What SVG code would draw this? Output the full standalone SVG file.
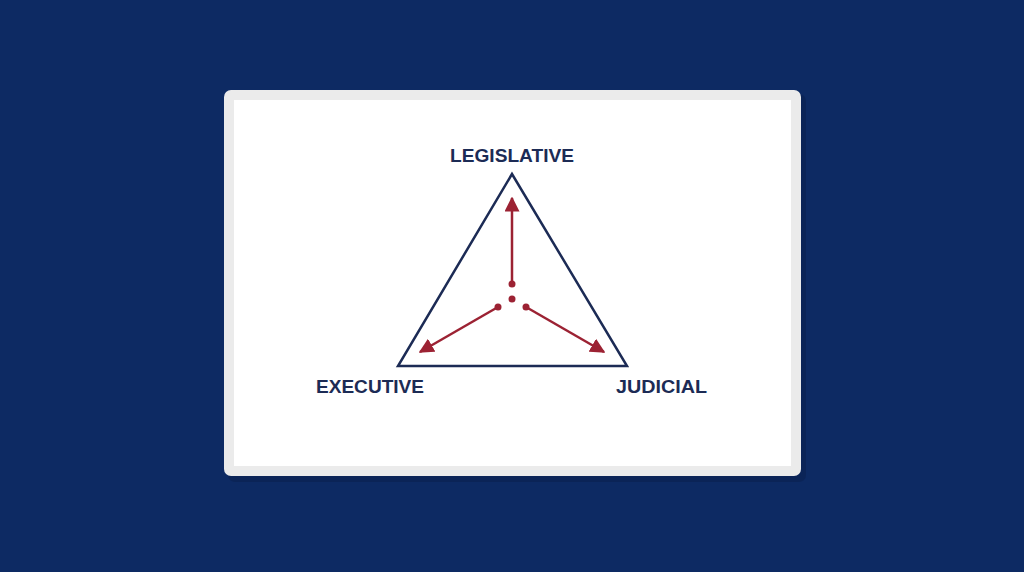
<svg xmlns="http://www.w3.org/2000/svg" width="1024" height="572" viewBox="0 0 1024 572">
<defs>
<style>
.lbl{font-family:"Liberation Sans","Open Sans",sans-serif;font-weight:700;font-size:18px;fill:#1c2b55;text-anchor:middle}
.arr{stroke:#9c2233;stroke-width:2.5;fill:none}
.dot{fill:#9c2233}
</style>
<marker id="ah" viewBox="0 0 10 10" refX="9" refY="5" markerWidth="6" markerHeight="6" markerUnits="strokeWidth" orient="auto">
<path d="M0,0 L10,5 L0,10 z" fill="#9c2233"/>
</marker>
</defs>
<rect width="1024" height="572" fill="#0d2a63"/>
<g id="card">
<rect x="228" y="94" width="578" height="388" rx="7" fill="#0a2150" opacity="0.6"/>
<rect x="224" y="90" width="577" height="386" rx="7" fill="#ebebeb"/>
<rect x="234" y="100" width="557" height="366" fill="#ffffff"/>
</g>
<g id="triangle">
<polygon points="512,174 398,366 627,366" fill="none" stroke="#1c2b55" stroke-width="2.5" stroke-linejoin="miter"/>
</g>
<g id="connectors">
<line class="arr" x1="512" y1="284" x2="512" y2="198" marker-end="url(#ah)"/>
<line class="arr" x1="498" y1="307" x2="420" y2="352" marker-end="url(#ah)"/>
<line class="arr" x1="526" y1="307" x2="604" y2="352" marker-end="url(#ah)"/>
<circle class="dot" cx="512" cy="284" r="3.5"/>
<circle class="dot" cx="512" cy="299" r="3.5"/>
<circle class="dot" cx="498" cy="307" r="3.5"/>
<circle class="dot" cx="526" cy="307" r="3.5"/>
</g>
<g id="legislative"><text class="lbl" x="512" y="162" textLength="124" lengthAdjust="spacingAndGlyphs">LEGISLATIVE</text></g>
<g id="executive"><text class="lbl" x="370" y="393" textLength="108" lengthAdjust="spacingAndGlyphs">EXECUTIVE</text></g>
<g id="judicial"><text class="lbl" x="661.5" y="393" textLength="91" lengthAdjust="spacingAndGlyphs">JUDICIAL</text></g>
</svg>
